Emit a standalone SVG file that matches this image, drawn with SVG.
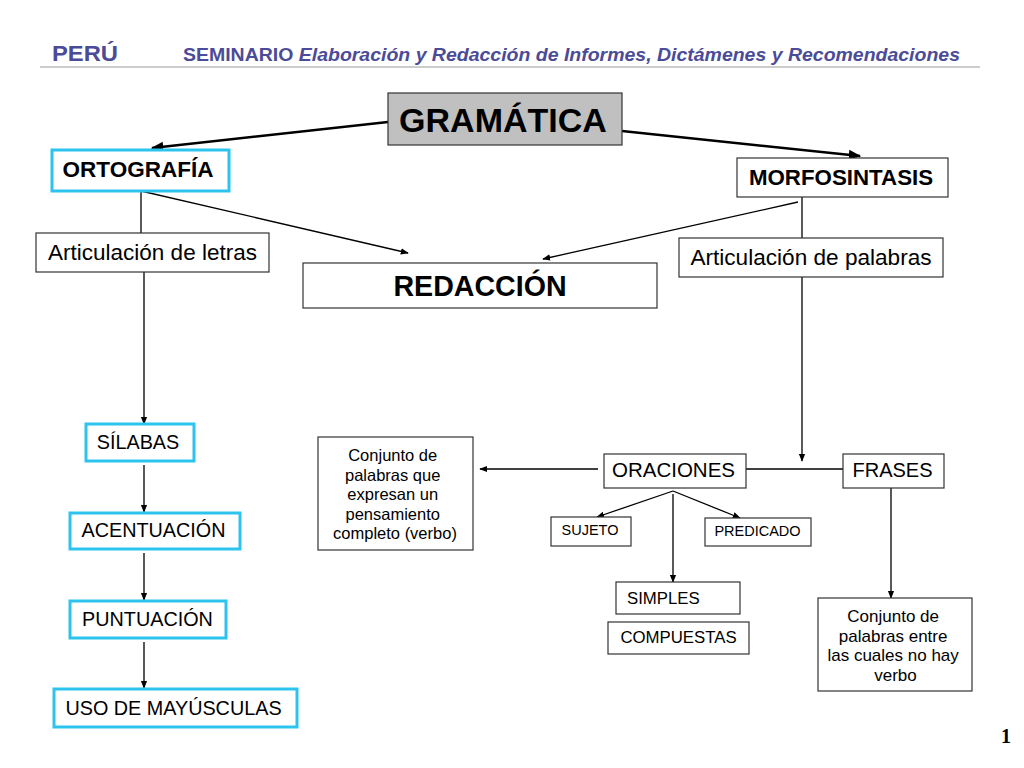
<svg xmlns="http://www.w3.org/2000/svg" width="1024" height="768" viewBox="0 0 1024 768">
<style>
.hd{font-family:"Liberation Sans",Arial,sans-serif;font-weight:bold;fill:#4b4b98}
.t{font-family:"Liberation Sans",Arial,sans-serif;fill:#000}
.b{font-weight:bold}
.box{fill:#fff;stroke:#333;stroke-width:1.2}
.cy{fill:#fff;stroke:#2cc3ee;stroke-width:3}
.ln{stroke:#000;stroke-width:1.3;fill:none}
.thk{stroke:#000;stroke-width:2.5;fill:none}
</style>
<defs>
<marker id="ah" viewBox="0 0 10 10" refX="9" refY="5" markerWidth="8" markerHeight="8" markerUnits="userSpaceOnUse" orient="auto">
<path d="M0,1 L10,5 L0,9 z" fill="#000"/>
</marker>
<marker id="ah2" viewBox="0 0 10 10" refX="9" refY="5" markerWidth="5" markerHeight="5" orient="auto">
<path d="M0,1 L10,5 L0,9 z" fill="#000"/>
</marker>
</defs>
<rect width="1024" height="768" fill="#fff"/>
<g id="header">
<text class="hd" x="52" y="61" font-size="22" textLength="66" lengthAdjust="spacingAndGlyphs">PERÚ</text>
<text class="hd" x="183" y="61" font-size="18" textLength="777" lengthAdjust="spacingAndGlyphs">SEMINARIO <tspan font-style="italic">Elaboración y Redacción de Informes, Dictámenes y Recomendaciones</tspan></text>
<line x1="40" y1="67" x2="980" y2="67" stroke="#999" stroke-width="1"/>
</g>
<g id="connectors">
<line class="thk" x1="388" y1="122" x2="152" y2="148" marker-end="url(#ah2)"/>
<line class="thk" x1="622" y1="131" x2="860" y2="156" marker-end="url(#ah2)"/>
<line class="ln" x1="141" y1="191" x2="141" y2="233"/>
<line class="ln" x1="141" y1="191" x2="408" y2="253" marker-end="url(#ah)"/>
<line class="ln" x1="798" y1="202" x2="543" y2="259" marker-end="url(#ah)"/>
<line class="ln" x1="802" y1="197" x2="802" y2="238"/>
<line class="ln" x1="802" y1="277" x2="802" y2="461" marker-end="url(#ah)"/>
<line class="ln" x1="746" y1="469" x2="843" y2="469"/>
<line class="ln" x1="598" y1="469" x2="480" y2="469" marker-end="url(#ah)"/>
<line class="ln" x1="673" y1="491" x2="597" y2="517" marker-end="url(#ah)"/>
<line class="ln" x1="673" y1="491" x2="740" y2="518" marker-end="url(#ah)"/>
<line class="ln" x1="673" y1="494" x2="673" y2="582" marker-end="url(#ah)"/>
<line class="ln" x1="891" y1="488" x2="891" y2="598" marker-end="url(#ah)"/>
<line class="ln" x1="144" y1="272" x2="144" y2="424" marker-end="url(#ah)"/>
<line class="ln" x1="144" y1="465" x2="144" y2="512" marker-end="url(#ah)"/>
<line class="ln" x1="144" y1="553" x2="144" y2="600" marker-end="url(#ah)"/>
<line class="ln" x1="144" y1="642" x2="144" y2="688" marker-end="url(#ah)"/>
</g>
<g id="gramatica">
<rect x="388" y="93" width="234" height="52" fill="#c0c0c0" stroke="#333" stroke-width="1.2"/>
<text class="t b" x="503" y="132" font-size="34" text-anchor="middle">GRAMÁTICA</text>
</g>
<g id="ortografia">
<rect class="cy" x="52" y="150" width="177" height="41"/>
<text class="t b" x="138" y="177" font-size="22.5" text-anchor="middle">ORTOGRAFÍA</text>
</g>
<g id="morfosintasis">
<rect class="box" x="737" y="158" width="211" height="39"/>
<text class="t b" x="841" y="185" font-size="22.3" text-anchor="middle">MORFOSINTASIS</text>
</g>
<g id="art-letras">
<rect class="box" x="36" y="233" width="233" height="39"/>
<text class="t" x="152.5" y="260" font-size="22.5" text-anchor="middle">Articulación de letras</text>
</g>
<g id="redaccion">
<rect class="box" x="303" y="263" width="354" height="45"/>
<text class="t b" x="480" y="296" font-size="28.6" text-anchor="middle">REDACCIÓN</text>
</g>
<g id="art-palabras">
<rect class="box" x="679" y="238" width="264" height="39"/>
<text class="t" x="811" y="265" font-size="22.6" text-anchor="middle">Articulación de palabras</text>
</g>
<g id="oraciones">
<rect class="box" x="604" y="454" width="142" height="34"/>
<text class="t" x="673.5" y="477" font-size="20.5" text-anchor="middle">ORACIONES</text>
</g>
<g id="frases">
<rect class="box" x="843" y="454" width="101" height="34"/>
<text class="t" x="892.5" y="477" font-size="20" text-anchor="middle">FRASES</text>
</g>
<g id="def-oraciones">
<rect class="box" x="318" y="437" width="155" height="113"/>
<text class="t" font-size="16.5" text-anchor="middle">
<tspan x="395" y="461">Conjunto de</tspan>
<tspan x="395" y="480.5">palabras que</tspan>
<tspan x="395" y="500">expresan un</tspan>
<tspan x="395" y="519.5">pensamiento</tspan>
<tspan x="395" y="539">completo (verbo)</tspan>
</text>
</g>
<g id="sujeto">
<rect class="box" x="551" y="517" width="80" height="29"/>
<text class="t" x="590" y="535" font-size="14.5" text-anchor="middle">SUJETO</text>
</g>
<g id="predicado">
<rect class="box" x="705" y="518" width="106" height="28"/>
<text class="t" x="757.5" y="536" font-size="14.5" text-anchor="middle">PREDICADO</text>
</g>
<g id="simples">
<rect class="box" x="616" y="582" width="124" height="32"/>
<text class="t" x="627" y="604" font-size="16.8">SIMPLES</text>
</g>
<g id="compuestas">
<rect class="box" x="608" y="622" width="141" height="32"/>
<text class="t" x="678.5" y="643" font-size="16.8" text-anchor="middle">COMPUESTAS</text>
</g>
<g id="def-frases">
<rect class="box" x="818" y="598" width="154" height="93"/>
<text class="t" font-size="17" text-anchor="middle">
<tspan x="895.5" y="622">Conjunto de</tspan>
<tspan x="895.5" y="641.5">palabras entre</tspan>
<tspan x="895.5" y="661">las cuales no hay</tspan>
<tspan x="895.5" y="681">verbo</tspan>
</text>
</g>
<g id="silabas">
<rect class="cy" x="86" y="424" width="108" height="37"/>
<text class="t" x="138" y="449" font-size="19.8" text-anchor="middle">SÍLABAS</text>
</g>
<g id="acentuacion">
<rect class="cy" x="70" y="513" width="170" height="36"/>
<text class="t" x="153.5" y="537" font-size="19.8" text-anchor="middle">ACENTUACIÓN</text>
</g>
<g id="puntuacion">
<rect class="cy" x="70" y="601" width="156" height="37"/>
<text class="t" x="147.5" y="626" font-size="19.8" text-anchor="middle">PUNTUACIÓN</text>
</g>
<g id="mayusculas">
<rect class="cy" x="54" y="689" width="243" height="38"/>
<text class="t" x="173.5" y="715" font-size="19.8" text-anchor="middle">USO DE MAYÚSCULAS</text>
</g>
<text x="1006" y="743" font-family="Liberation Serif,serif" font-weight="bold" font-size="20" text-anchor="middle">1</text>
</svg>
